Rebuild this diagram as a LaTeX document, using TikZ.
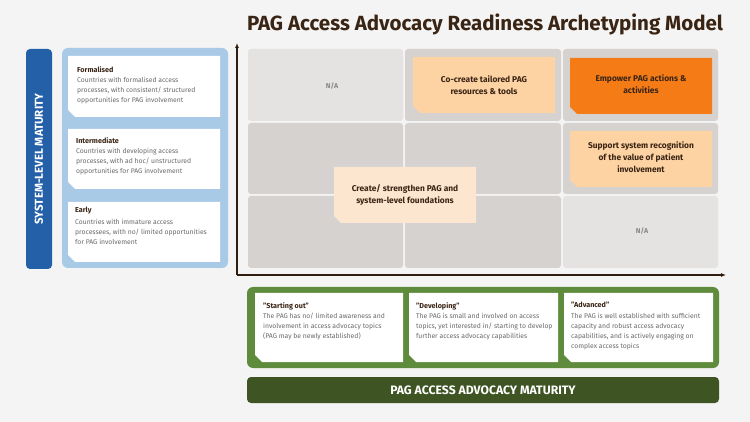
\documentclass[tikz,border=0pt]{standalone}
\usepackage{fontspec}
\setmainfont{Fira Sans}
\usetikzlibrary{arrows.meta}
\definecolor{bg}{HTML}{F4F4F4}
\definecolor{cellA}{HTML}{E5E3E1}
\definecolor{cellB}{HTML}{D6D2CF}
\definecolor{lor}{HTML}{FDD3A4}
\definecolor{por}{HTML}{FDE6CF}
\definecolor{dor}{HTML}{F47B16}
\definecolor{blueD}{HTML}{2460A8}
\definecolor{blueL}{HTML}{A8CAE6}
\definecolor{grn}{HTML}{5F8B3C}
\definecolor{grnD}{HTML}{3E5423}
\definecolor{brn}{HTML}{3A2414}
\definecolor{txt}{HTML}{6A6A6A}
\newcommand{\cutbox}[5]{\fill[#5] (#1,#2) -- (#3,#2) -- (#3,#4) -- (#1+7,#4) -- (#1,#4-7) -- cycle;}
\tikzset{
 head/.style={font=\fontsize{7.2}{8.5}\selectfont\bfseries, text=brn, anchor=north west, align=left, inner sep=0},
 body/.style={font=\fontsize{6.8}{10}\selectfont, text=txt, anchor=north west, align=left, inner sep=0},
 act/.style={font=\fontsize{8.4}{12}\selectfont\bfseries, text=brn, align=center, inner sep=0},
 na/.style={font=\fontsize{7}{8}\selectfont\bfseries, text=txt!80, inner sep=0}
}
\begin{document}
\begin{tikzpicture}[x=1pt,y=-1pt]
\fill[bg] (0,0) rectangle (750,422);
\useasboundingbox (0,0) rectangle (750,422);
\node[font=\fontsize{20.5}{24}\selectfont\bfseries, text=brn] (title) at (485,24) {PAG Access Advocacy Readiness Archetyping Model};
% grid
\fill[cellA, rounded corners=3] (248,49) rectangle (403,121);
\fill[cellB, rounded corners=3] (405,49) rectangle (561,121);
\fill[cellB, rounded corners=3] (563,49) rectangle (718,121);
\fill[cellB, rounded corners=3] (248,123) rectangle (403,194);
\fill[cellB, rounded corners=3] (405,123) rectangle (561,194);
\fill[cellB, rounded corners=3] (563,123) rectangle (718,194);
\fill[cellB, rounded corners=3] (248,196) rectangle (403,268);
\fill[cellB, rounded corners=3] (405,196) rectangle (561,268);
\fill[cellA, rounded corners=3] (563,196) rectangle (718,268);
\node[na] (na1) at (332,86) {N/A};
\node[na] (na2) at (642,231) {N/A};
\cutbox{413}{57}{555}{113}{lor}
\node[act] (a1) at (484,85) {Co-create tailored PAG\\resources \& tools};
\cutbox{570}{58}{712}{114}{dor}
\node[act] (a2) at (641,84) {Empower PAG actions \&\\activities};
\cutbox{570}{131}{712}{187}{lor}
\node[act] (a3) at (641,157) {Support system recognition\\of the value of patient\\involvement};
\cutbox{334}{167}{476}{223}{por}
\node[act] (a4) at (405,195) {Create/ strengthen PAG and\\system-level foundations};
% axes
\coordinate (o) at (237,275);
\coordinate (ytop) at (237,43);
\coordinate (xend) at (726,275);
\draw[line width=1.3pt, brn!80!black, -{Latex[length=5pt,width=4pt]}] (o) -- (ytop);
\draw[line width=1.3pt, brn!80!black, -{Latex[length=5pt,width=4pt]}] (o) -- (xend);
% left
\fill[blueD, rounded corners=4] (26,49) rectangle (52,269);
\node[rotate=90, font=\fontsize{11.5}{12}\selectfont\bfseries, text=white] (sys) at (39,159) {SYSTEM-LEVEL MATURITY};
\fill[blueL, rounded corners=6] (62,48) rectangle (228,268);
\cutbox{68}{56}{220}{117}{white}
\node[head] (f1) at (77,66) {Formalised};
\node[body] (f2) at (77,77) {Countries with formalised access\\processes, with consistent/ structured\\opportunities for PAG involvement};
\cutbox{68}{129}{220}{189}{white}
\node[head] (i1) at (76,137) {Intermediate};
\node[body] (i2) at (76,148) {Countries with developing access\\processes, with ad hoc/ unstructured\\opportunities for PAG involvement};
\cutbox{68}{202}{220}{262}{white}
\node[head] (e1) at (75,207) {Early};
\node[body] (e2) at (75,219) {Countries with immature access\\processees, with no/ limited opportunities\\for PAG involvement};
% bottom
\fill[grn, rounded corners=6] (247,287) rectangle (719,368);
\cutbox{255}{293}{403}{362}{white}
\node[head] (s1) at (263,302) {"Starting out"};
\node[body] (s2) at (263,313) {The PAG has no/ limited awareness and\\involvement in access advocacy topics\\(PAG may be newly established)};
\cutbox{409}{293}{558}{362}{white}
\node[head] (d1) at (416,302) {"Developing"};
\node[body] (d2) at (416,313) {The PAG is small and involved on access\\topics, yet interested in/ starting to develop\\further access advocacy capabilities};
\cutbox{564}{293}{713}{362}{white}
\node[head] (v1) at (571,302) {"Advanced"};
\node[body] (v2) at (571,313) {The PAG is well established with sufficient\\capacity and robust access advocacy\\capabilities, and is actively engaging on\\complex access topics};
\fill[grnD, rounded corners=4] (247,377) rectangle (719,403);
\node[font=\fontsize{12.2}{14}\selectfont\bfseries, text=white] (pam) at (483,390) {PAG ACCESS ADVOCACY MATURITY};
\end{tikzpicture}
\end{document}
